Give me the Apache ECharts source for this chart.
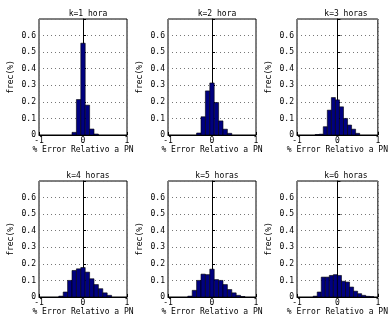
<!DOCTYPE html>
<html>
<head>
<meta charset="utf-8">
<script src="https://cdn.jsdelivr.net/npm/echarts@6/dist/echarts.min.js"></script>
<style>
  html, body { margin: 0; padding: 0; background: #fff; }
  #chart { width: 390px; height: 324px; }
</style>
</head>
<body>
<div id="chart"></div>
<script>
// títulos de cada subgráfico
const titles = ['k=1 hora', 'k=2 hora', 'k=3 horas', 'k=4 horas', 'k=5 horas', 'k=6 horas']
const xTicks = [-1, 0, 1]
const yTicks = [0, 0.1, 0.2, 0.3, 0.4, 0.5, 0.6]
const binWidth = 0.1

// centros de clase y frecuencias relativas
const centers1 = [-0.2, -0.1, 0, 0.1, 0.2, 0.3]
const freq1 = [0.016, 0.214, 0.554, 0.18, 0.036, 0.006]
const centers2 = [-0.3, -0.2, -0.1, 0, 0.1, 0.2, 0.3, 0.4]
const freq2 = [0.012, 0.11, 0.266, 0.314, 0.196, 0.085, 0.035, 0.01]
const centers3 = [-0.5, -0.4, -0.3, -0.2, -0.1, 0, 0.1, 0.2, 0.3, 0.4, 0.5]
const freq3 = [0.003, 0.005, 0.05, 0.15, 0.226, 0.212, 0.17, 0.1, 0.06, 0.035, 0.01]
const centers4 = [-0.5, -0.4, -0.3, -0.2, -0.1, 0, 0.1, 0.2, 0.3, 0.4, 0.5, 0.6]
const freq4 = [0.005, 0.03, 0.1, 0.16, 0.17, 0.178, 0.15, 0.11, 0.075, 0.05, 0.025, 0.01]
const centers5 = [-0.5, -0.4, -0.3, -0.2, -0.1, 0, 0.1, 0.2, 0.3, 0.4, 0.5, 0.6, 0.7]
const freq5 = [0.005, 0.04, 0.1, 0.138, 0.135, 0.168, 0.105, 0.1, 0.075, 0.045, 0.025, 0.01, 0.003]
const centers6 = [-0.55, -0.45, -0.35, -0.25, -0.15, -0.05, 0.05, 0.15, 0.25, 0.35, 0.45, 0.55, 0.65, 0.75, 0.85]
const freq6 = [0.005, 0.03, 0.12, 0.12, 0.13, 0.135, 0.13, 0.095, 0.09, 0.06, 0.035, 0.02, 0.01, 0.004, 0.002]

const allCenters = [centers1, centers2, centers3, centers4, centers5, centers6]
const allFreq = [freq1, freq2, freq3, freq4, freq5, freq6]

const font = 'DejaVu Sans Mono'
const lefts = [39, 168, 297]
const tops = [19, 181]
const plotW = 88
const plotH = 116

const myChart = echarts.init(document.getElementById('chart'), null, { renderer: 'canvas' })

var grids = []
var xAxes = []
var yAxes = []
var series = []
var titleList = []

function renderItem(params, api) {
  const x = api.value(0)
  const y = api.value(1)
  const p0 = api.coord([x - binWidth / 2, y])
  const p1 = api.coord([x + binWidth / 2, 0])
  return {
    type: 'rect',
    shape: { x: p0[0], y: p0[1], width: p1[0] - p0[0], height: p1[1] - p0[1] },
    style: { fill: '#000080', stroke: '#000', lineWidth: 0.6 }
  }
}

for (var i = 0; i < 6; i++) {
  const col = i % 3
  const row = Math.floor(i / 3)
  grids.push({
    left: lefts[col], top: tops[row], width: plotW, height: plotH,
    show: true, borderColor: '#000', borderWidth: 1, backgroundColor: '#fff'
  })
  titleList.push({
    text: titles[i],
    left: lefts[col] + plotW / 2,
    top: tops[row] - 14,
    textAlign: 'center',
    textStyle: { fontFamily: font, fontSize: 8, fontWeight: 'normal', color: '#000' }
  })
  xAxes.push({
    type: 'value', gridIndex: i,
    min: xTicks[0], max: xTicks[xTicks.length - 1], interval: 1,
    name: '% Error Relativo a PN', nameLocation: 'middle', nameGap: 10,
    nameTextStyle: { fontFamily: font, fontSize: 8, color: '#000' },
    axisLine: { lineStyle: { color: '#000' } },
    axisTick: { inside: true, length: 3, lineStyle: { color: '#000' } },
    axisLabel: { fontFamily: font, fontSize: 8, color: '#000', margin: 2 },
    splitLine: { show: true, lineStyle: { color: '#777', type: [1, 3], width: 1 } }
  })
  yAxes.push({
    type: 'value', gridIndex: i,
    min: 0, max: 0.7, interval: 0.1,
    name: 'frec(%)', nameLocation: 'middle', nameGap: 24, nameRotate: 90,
    nameTextStyle: { fontFamily: font, fontSize: 8, color: '#000' },
    axisLine: { show: true, lineStyle: { color: '#000' } },
    axisTick: { inside: true, length: 3, lineStyle: { color: '#000' } },
    axisLabel: {
      fontFamily: font, fontSize: 8, color: '#000', margin: 3,
      formatter: function(v) {
        return v > yTicks[yTicks.length - 1] + 0.01 ? '' : String(+v.toFixed(1))
      }
    },
    splitLine: { show: true, lineStyle: { color: '#777', type: [1, 3], width: 1 } }
  })
  series.push({
    type: 'custom',
    xAxisIndex: i,
    yAxisIndex: i,
    renderItem: renderItem,
    encode: { x: 0, y: 1 },
    clip: true,
    data: allCenters[i].map((c, j) => [c, allFreq[i][j]])
  })
}

var option = {
  backgroundColor: '#fff',
  animation: false,
  title: titleList,
  grid: grids,
  xAxis: xAxes,
  yAxis: yAxes,
  series: series
}
myChart.setOption(option)
</script>
</body>
</html>
